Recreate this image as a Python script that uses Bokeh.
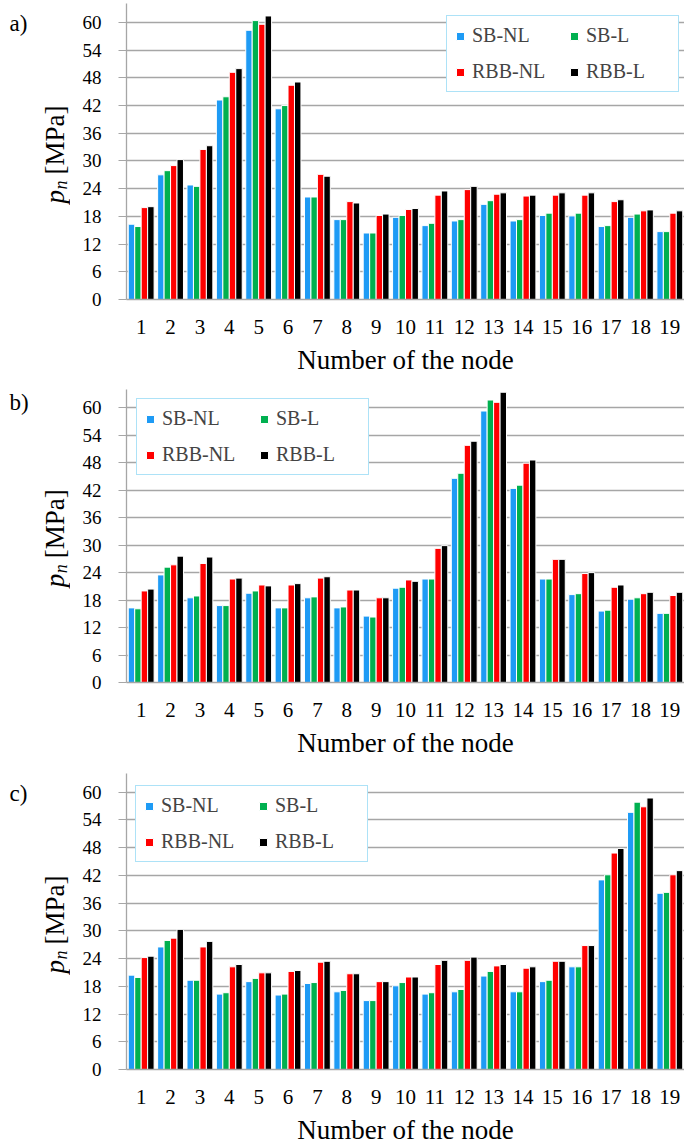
from math import pi
from bokeh.plotting import figure
from bokeh.layouts import column, row
from bokeh.models import (ColumnDataSource, FactorRange, Range1d, FixedTicker,
                          Legend, LegendItem)
from bokeh.core.properties import value
from bokeh.transform import dodge
from bokeh.embed import file_html
from bokeh.resources import INLINE

nodes = [str(i) for i in range(1, 20)]
series_names = ["SB-NL", "SB-L", "RBB-NL", "RBB-L"]
series_colors = ["#1E9BF5", "#00B050", "#FF0000", "#000000"]
y_ticks = [0, 6, 12, 18, 24, 30, 36, 42, 48, 54, 60]

# panel a)
a_sb_nl = [16.3, 27.0, 24.8, 43.2, 58.3, 41.3, 22.2, 17.3, 14.4, 17.8, 16.0, 17.0, 20.6, 17.0, 18.2, 18.1, 15.8, 17.8, 14.7]
a_sb_l = [15.8, 27.9, 24.5, 43.9, 60.4, 42.0, 22.2, 17.3, 14.4, 18.2, 16.5, 17.3, 21.4, 17.3, 18.7, 18.7, 16.0, 18.5, 14.7]
a_rbb_nl = [19.9, 29.0, 32.5, 49.2, 59.6, 46.4, 27.1, 21.2, 18.2, 19.5, 22.6, 23.8, 22.8, 22.4, 22.6, 22.6, 21.2, 19.2, 18.7]
a_rbb_l = [20.1, 30.3, 33.3, 50.0, 61.4, 47.1, 26.7, 20.9, 18.5, 19.7, 23.5, 24.5, 23.1, 22.6, 23.1, 23.1, 21.6, 19.4, 19.2]

# panel b)
b_sb_nl = [16.3, 23.5, 18.5, 16.8, 19.5, 16.3, 18.5, 16.3, 14.5, 20.6, 22.6, 44.6, 59.3, 42.4, 22.6, 19.2, 15.6, 18.2, 15.1]
b_sb_l = [16.1, 25.2, 18.9, 16.8, 20.0, 16.3, 18.7, 16.5, 14.3, 20.8, 22.6, 45.7, 61.7, 43.1, 22.6, 19.4, 15.8, 18.5, 15.1]
b_rbb_nl = [20.0, 25.7, 26.0, 22.6, 21.3, 21.3, 22.8, 20.2, 18.5, 22.4, 29.3, 51.8, 61.2, 47.9, 26.9, 23.8, 20.8, 19.4, 19.0]
b_rbb_l = [20.4, 27.6, 27.4, 22.8, 21.1, 21.6, 23.1, 20.2, 18.5, 22.1, 29.9, 52.7, 63.4, 48.6, 26.9, 24.0, 21.3, 19.7, 19.7]

# panel c)
c_sb_nl = [20.4, 26.5, 19.3, 16.3, 19.0, 16.1, 18.6, 16.8, 14.9, 18.1, 16.3, 16.8, 20.2, 16.8, 19.0, 22.2, 41.0, 55.6, 38.1]
c_sb_l = [19.9, 27.9, 19.3, 16.6, 19.7, 16.3, 18.8, 17.1, 14.9, 18.8, 16.6, 17.3, 21.2, 16.8, 19.3, 22.2, 42.1, 57.8, 38.3]
c_rbb_nl = [24.2, 28.4, 26.5, 22.2, 20.9, 21.2, 23.2, 20.7, 19.0, 20.0, 22.7, 23.6, 22.4, 21.9, 23.4, 26.8, 46.8, 56.8, 42.1]
c_rbb_l = [24.5, 30.3, 27.7, 22.7, 20.9, 21.4, 23.4, 20.7, 19.0, 20.0, 23.6, 24.3, 22.7, 22.2, 23.4, 26.8, 47.8, 58.7, 43.0]

FONT = "Liberation Serif"
GRID = "#A6A6A6"
LEGEND_BORDER = "#5BC5F0"
offsets = [-0.33, -0.11, 0.11, 0.33]
bar_w = 0.22
SIDE_W = 70          # narrow strip on the left holding the panel letter and y title
MAIN_W = 684 - SIDE_W
BORDER_L = 126 - SIDE_W


def side_strip(letter, height, b_top, b_bottom, letter_dy):
    # the row aligns this strip's frame with the chart frame, so use frame pixels
    frame_h = height - b_top - b_bottom
    s = figure(width=SIDE_W, height=height, x_range=Range1d(0, SIDE_W),
               y_range=Range1d(0, frame_h), x_axis_type=None, y_axis_type=None,
               output_backend="svg", toolbar_location=None,
               min_border_left=0, min_border_right=0, min_border_top=b_top,
               min_border_bottom=b_bottom)
    s.grid.visible = False
    s.outline_line_color = None
    s.background_fill_color = "white"
    common = dict(text_font=value(FONT), text_align="left", text_baseline="middle",
                  text_color="black")
    s.text(x=[9], y=[letter_dy], text=[letter], text_font_size="23px", **common)
    s.text(x=[54], y=[96], text=["p"], angle=pi / 2, text_font_size="27px",
           text_font_style="italic", **common)
    s.text(x=[60], y=[110], text=["n"], angle=pi / 2, text_font_size="18px",
           text_font_style="italic", **common)
    s.text(x=[54], y=[125], text=["[MPa]"], angle=pi / 2,
           text_font_size="27px", **common)
    return s


def make_panel(letter, values, y_max, height, b_top, b_bottom, legend_xy, letter_dy):
    p = figure(x_range=FactorRange(*nodes), y_range=Range1d(0, y_max),
               width=MAIN_W, height=height, output_backend="svg",
               toolbar_location=None, min_border_left=BORDER_L, min_border_right=0,
               min_border_top=b_top, min_border_bottom=b_bottom)
    p.outline_line_color = None
    p.background_fill_color = "white"
    src = ColumnDataSource(dict(node=nodes, s0=values[0], s1=values[1],
                                s2=values[2], s3=values[3]))
    items = []
    for k, (name, col) in enumerate(zip(series_names, series_colors)):
        r = p.vbar(x=dodge("node", offsets[k], range=p.x_range), top="s%d" % k,
                   width=bar_w, source=src, fill_color=col,
                   line_color="white", line_width=1)
        items.append(LegendItem(label=name, renderers=[r]))

    leg = Legend(items=items, location=legend_xy, orientation="horizontal", ncols=2,
                 label_text_font=FONT, label_text_font_size="20px",
                 glyph_width=10, glyph_height=10, label_standoff=7,
                 label_width=84, spacing=13, padding=8, margin=0,
                 border_line_color=LEGEND_BORDER, border_line_width=1.5,
                 background_fill_color="white", background_fill_alpha=1.0)
    p.add_layout(leg)

    p.xgrid.visible = False
    p.ygrid.ticker = FixedTicker(ticks=y_ticks)
    p.ygrid.grid_line_color = GRID
    p.ygrid.grid_line_width = 1.3

    p.yaxis.ticker = FixedTicker(ticks=y_ticks)
    p.yaxis.major_tick_out = 8
    p.yaxis.major_tick_in = 0
    p.yaxis.minor_tick_line_color = None
    p.yaxis.major_tick_line_color = GRID
    p.yaxis.axis_line_color = GRID
    p.yaxis.axis_line_width = 1.3
    p.yaxis.major_label_text_font = FONT
    p.yaxis.major_label_text_font_size = "19px"
    p.yaxis.major_label_text_color = "black"
    p.yaxis.major_label_standoff = 17

    p.xaxis.major_tick_line_color = None
    p.xaxis.minor_tick_line_color = None
    p.xaxis.axis_line_color = GRID
    p.xaxis.axis_line_width = 1.5
    p.xaxis.major_label_text_font = FONT
    p.xaxis.major_label_text_font_size = "21px"
    p.xaxis.major_label_text_color = "black"
    p.xaxis.major_label_standoff = 14
    p.xaxis.axis_label = "Number of the node"
    p.xaxis.axis_label_text_font = FONT
    p.xaxis.axis_label_text_font_size = "27px"
    p.xaxis.axis_label_text_font_style = "normal"
    p.xaxis.axis_label_text_color = "black"
    p.xaxis.axis_label_standoff = 8

    s = side_strip(letter, height, b_top, b_bottom, letter_dy)
    return row(s, p, spacing=0)


pa = make_panel("a)", [a_sb_nl, a_sb_l, a_rbb_nl, a_rbb_l], 64.1, 380, 3, 81, (320, 207), 276)
pb = make_panel("b)", [b_sb_nl, b_sb_l, b_rbb_nl, b_rbb_l], 64, 380, 9, 76, (10, 207), 282)
pc = make_panel("c)", [c_sb_nl, c_sb_l, c_rbb_nl, c_rbb_l], 64, 387, 13, 78, (9, 207), 276)

layout = column(pa, pb, pc, spacing=0)
open("out.html", "w").write(file_html(layout, INLINE))
